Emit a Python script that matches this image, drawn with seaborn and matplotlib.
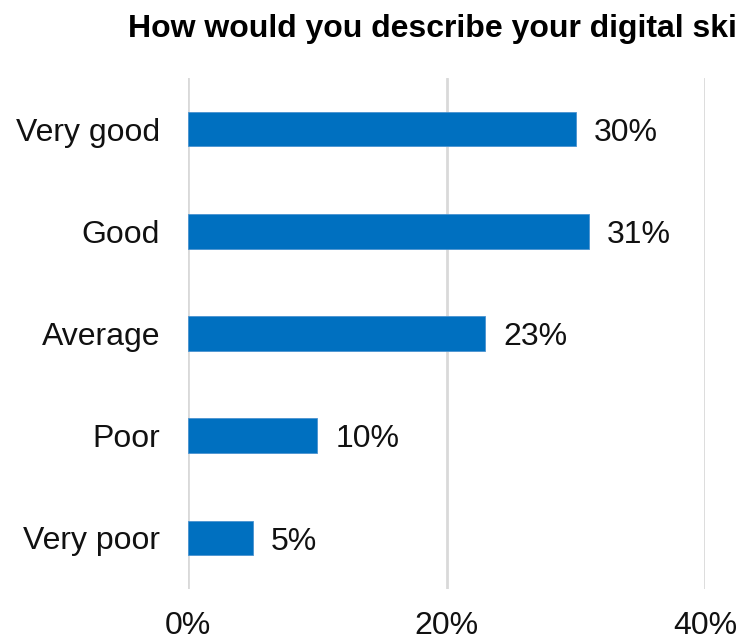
import matplotlib
matplotlib.use("Agg")
import matplotlib.pyplot as plt
import seaborn as sns
import pandas as pd

categories = ["Very good", "Good", "Average", "Poor", "Very poor"]
shares = [30, 31, 23, 10, 5]
x_ticks = [0, 20, 40]
x_tick_labels = ["0%", "20%", "40%"]
title = "How would you describe your digital skills?"

df = pd.DataFrame({"category": categories, "share": shares})

sns.set_theme(style="white")
plt.rcParams["font.family"] = ["Liberation Sans", "DejaVu Sans"]

fig = plt.figure(figsize=(7.38, 6.40), dpi=100)
ax = fig.add_axes([188 / 738, 1 - 589 / 640, (705 - 188) / 738, (589 - 78) / 640])

sns.barplot(data=df, x="share", y="category", orient="h", color="#0070C0",
            saturation=1, width=0.34, ax=ax, edgecolor="#4a93d0", linewidth=0.6)

ax.set_xlim(0, 40)
ax.set_ylim(4.5, -0.5)
ax.set_xticks(x_ticks)
ax.set_xticklabels(x_tick_labels)
ax.xaxis.grid(True, color="#d9d9d9", linewidth=2)
ax.set_axisbelow(True)
for s in ax.spines.values():
    s.set_visible(False)
ax.set_xlabel("")
ax.set_ylabel("")
ax.tick_params(axis="y", length=0, pad=20, labelsize=23, labelcolor="#111111")
ax.tick_params(axis="x", length=0, pad=16, labelsize=23, labelcolor="#111111")

# value labels to the right of each bar, digits centred on the bar
for i, v in enumerate(shares):
    ax.text(v + 1.4, i + 0.115, f"{v}%", va="baseline", ha="left",
            fontsize=23, color="#111111")

fig.text(128 / 738, 1 - 37 / 640, title, ha="left", va="baseline",
         fontsize=23, fontweight="bold", color="black")

fig.savefig("out.png", dpi=100)
